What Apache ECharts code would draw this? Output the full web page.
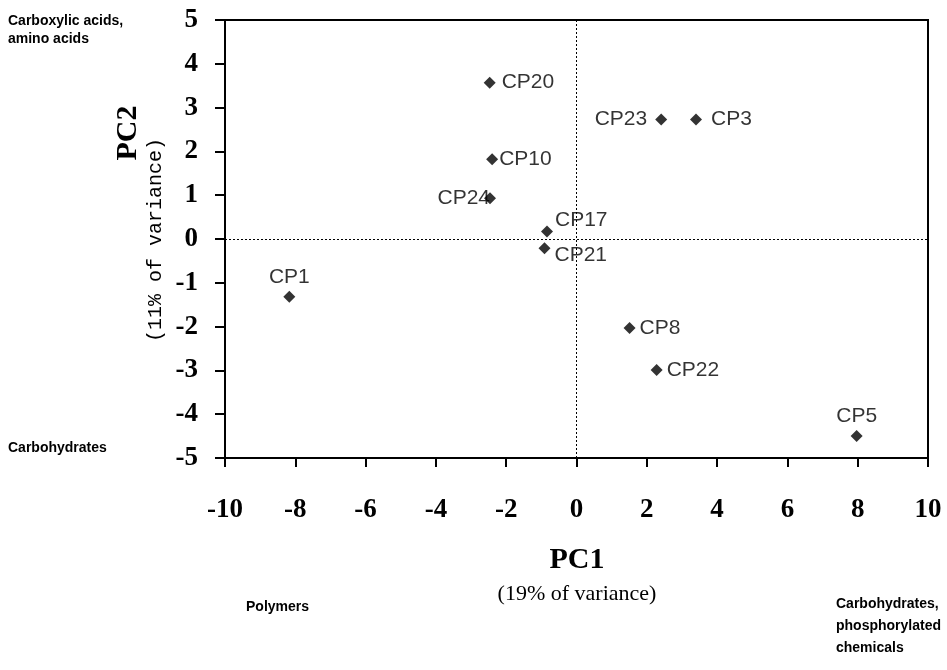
<!DOCTYPE html>
<html>
<head>
<meta charset="utf-8">
<script src="https://cdn.jsdelivr.net/npm/echarts@6/dist/echarts.min.js"></script>
<style>html,body{margin:0;padding:0;background:#fff;}#c{width:947px;height:670px;}</style>
</head>
<body>
<div id="c"></div>
<script>
// Data
var names = ['CP20','CP23','CP3','CP10','CP24','CP17','CP21','CP1','CP8','CP22','CP5'];
var pc1 = [-2.47, 2.41, 3.40, -2.40, -2.46, -0.84, -0.91, -8.17, 1.51, 2.28, 7.97];
var pc2 = [3.57, 2.73, 2.73, 1.82, 0.93, 0.17, -0.21, -1.32, -2.03, -2.99, -4.50];
var xTicks = [-10, -8, -6, -4, -2, 0, 2, 4, 6, 8, 10];
var yTicks = [-5, -4, -3, -2, -1, 0, 1, 2, 3, 4, 5];

// label placement (style only)
var labelPos = {
  CP20: {position: 'right', distance: 6},
  CP23: {position: 'left', distance: 8},
  CP3:  {position: 'right', distance: 9},
  CP10: {position: 'right', distance: 1},
  CP24: {position: 'left', distance: 0, offset: [6, 0]},
  CP17: {position: 'right', distance: 2, offset: [0, -11]},
  CP21: {position: 'right', distance: 4, offset: [0, 7]},
  CP1:  {position: 'top', distance: 3},
  CP8:  {position: 'right', distance: 4},
  CP22: {position: 'right', distance: 4},
  CP5:  {position: 'top', distance: 3}
};

var pts = names.map(function (n, i) {
  return {value: [pc1[i], pc2[i]], name: n, label: labelPos[n]};
});

var chart = echarts.init(document.getElementById('c'), null, {renderer: 'canvas'});
var tickFont = {color: '#000', fontFamily: 'Liberation Serif', fontSize: 27, fontWeight: 'bold'};
var cornerFont = {fill: '#000', fontFamily: 'Liberation Sans', fontSize: 14, fontWeight: 'bold'};

chart.setOption({
  animation: false,
  backgroundColor: '#fff',
  grid: {left: 225, right: 19, top: 20, bottom: 212, show: true, borderColor: '#000', borderWidth: 2, backgroundColor: 'transparent'},
  xAxis: {
    type: 'value', min: -10, max: 10, interval: 2,
    axisLine: {onZero: false, lineStyle: {color: '#000', width: 2}},
    axisTick: {show: true, inside: false, length: 9, lineStyle: {color: '#000', width: 2}},
    splitLine: {show: false},
    axisLabel: Object.assign({margin: 39, formatter: function (v) { return xTicks.indexOf(v) >= 0 ? String(v) : ''; }}, tickFont)
  },
  yAxis: {
    type: 'value', min: -5, max: 5, interval: 1,
    axisLine: {onZero: false, lineStyle: {color: '#000', width: 2}},
    axisTick: {show: true, inside: false, length: 10, lineStyle: {color: '#000', width: 2}},
    splitLine: {show: false},
    axisLabel: Object.assign({margin: 27, formatter: function (v) { return yTicks.indexOf(v) >= 0 ? String(v) : ''; }}, tickFont)
  },
  series: [{
    type: 'scatter',
    symbol: 'diamond',
    symbolSize: 12,
    itemStyle: {color: '#000'},
    label: {show: true, formatter: '{b}', color: '#000', fontFamily: 'Liberation Sans', fontSize: 21},
    data: pts,
    markLine: {
      silent: true, symbol: 'none', label: {show: false},
      lineStyle: {type: [2, 2], color: '#000', width: 1},
      data: [{xAxis: 0}, {yAxis: 0}]
    }
  }],
  graphic: [
    {type: 'text', left: 8, top: 12, style: Object.assign({text: 'Carboxylic acids,\namino acids', lineHeight: 18}, cornerFont)},
    {type: 'text', left: 8, top: 441, style: Object.assign({text: 'Carbohydrates'}, cornerFont)},
    {type: 'text', left: 246, top: 600, style: Object.assign({text: 'Polymers'}, cornerFont)},
    {type: 'text', left: 836, top: 593, style: Object.assign({text: 'Carbohydrates,\nphosphorylated\nchemicals', lineHeight: 22}, cornerFont)},
    {type: 'text', x: 577, y: 560, style: {text: 'PC1', fill: '#000', fontFamily: 'Liberation Serif', fontWeight: 'bold', fontSize: 30, align: 'center', verticalAlign: 'middle'}},
    {type: 'text', x: 577, y: 594, style: {text: '(19% of variance)', fill: '#000', fontFamily: 'Liberation Serif', fontSize: 22, align: 'center', verticalAlign: 'middle'}},
    {type: 'text', x: 128, y: 133, rotation: Math.PI / 2, style: {text: 'PC2', fill: '#000', fontFamily: 'Liberation Serif', fontWeight: 'bold', fontSize: 30, align: 'center', verticalAlign: 'middle'}},
    {type: 'text', x: 156, y: 240, rotation: Math.PI / 2, style: {text: '(11% of variance)', fill: '#000', fontFamily: 'Liberation Mono', fontSize: 20, align: 'center', verticalAlign: 'middle'}}
  ]
});
</script>
</body>
</html>
